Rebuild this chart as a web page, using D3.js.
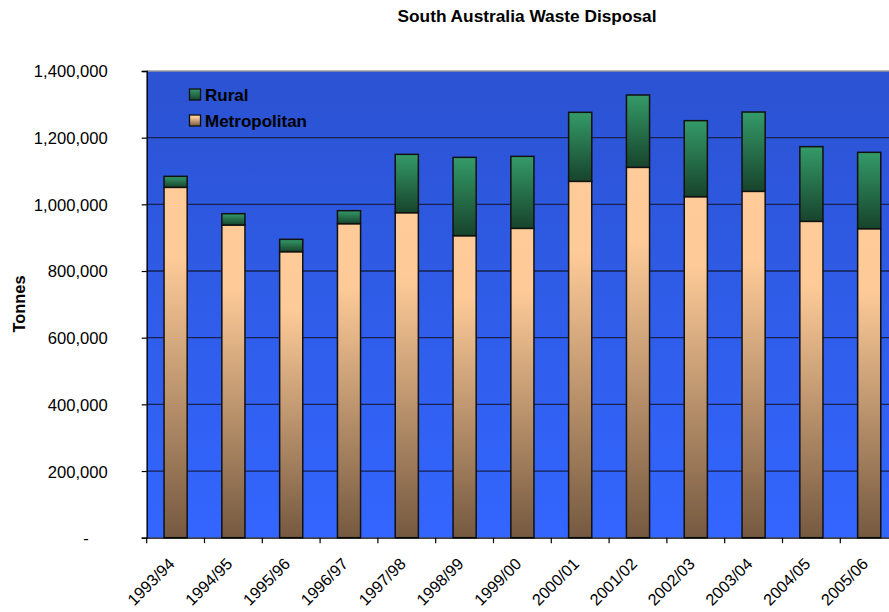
<!DOCTYPE html>
<html>
<head>
<meta charset="utf-8">
<script src="https://cdn.jsdelivr.net/npm/d3@7"></script>
<style>
  html, body { margin: 0; padding: 0; background: #ffffff; }
  svg { display: block; font-family: "Liberation Sans", Arial, sans-serif; }
</style>
</head>
<body>
<svg id="chart" width="889" height="612"></svg>
<script>
const categories = ["1993/94","1994/95","1995/96","1996/97","1997/98","1998/99","1999/00","2000/01","2001/02","2002/03","2003/04","2004/05","2005/06"];
const metropolitan = [1051000, 938000, 858000, 942000, 975000, 906000, 928000, 1069000, 1111000, 1023000, 1039000, 949000, 927000];
const rural = [33000, 34000, 37000, 39000, 175000, 235000, 216000, 207000, 217000, 228000, 238000, 224000, 229000];
const yTicks = [0, 200000, 400000, 600000, 800000, 1000000, 1200000, 1400000];
const seriesNames = ["Rural", "Metropolitan"];
const title = "South Australia Waste Disposal";
const yTitle = "Tonnes";

const svg = d3.select("#chart");
const plotLeft = 146.7, plotTop = 71, plotBottom = 537.7, step = 57.8;
const plotRight = plotLeft + step * categories.length;

const x = d3.scaleBand().domain(categories).range([plotLeft, plotRight]).paddingInner(0.6).paddingOuter(0.3);
const y = d3.scaleLinear().domain([0, 1400000]).range([plotBottom, plotTop]);

const defs = svg.append("defs");
const bg = defs.append("linearGradient").attr("id", "bgGrad").attr("x1", 0).attr("y1", 0).attr("x2", 0).attr("y2", 1);
bg.append("stop").attr("offset", "0%").attr("stop-color", "#2B52D1");
bg.append("stop").attr("offset", "100%").attr("stop-color", "#3366FF");

const mg = defs.append("linearGradient").attr("id", "metroGrad").attr("x1", 0).attr("y1", 0).attr("x2", 0).attr("y2", 1);
mg.append("stop").attr("offset", "0%").attr("stop-color", "#FFCC99");
mg.append("stop").attr("offset", "20%").attr("stop-color", "#FECB98");
mg.append("stop").attr("offset", "100%").attr("stop-color", "#755940");

const rg = defs.append("linearGradient").attr("id", "ruralGrad").attr("x1", 0).attr("y1", 0).attr("x2", 0).attr("y2", 1);
rg.append("stop").attr("offset", "0%").attr("stop-color", "#349A68");
rg.append("stop").attr("offset", "100%").attr("stop-color", "#17442C");

// plot background
svg.append("rect").attr("x", plotLeft).attr("y", plotTop)
  .attr("width", plotRight - plotLeft).attr("height", plotBottom - plotTop)
  .attr("fill", "url(#bgGrad)");

// gridlines
svg.append("g").selectAll("line").data(yTicks.filter(d => d > 0 && d < 1400000)).join("line")
  .attr("x1", plotLeft).attr("x2", plotRight)
  .attr("y1", d => y(d)).attr("y2", d => y(d))
  .attr("stroke", "#16214F").attr("stroke-width", 1.3);
// top border
svg.append("line").attr("x1", plotLeft).attr("x2", plotRight).attr("y1", plotTop).attr("y2", plotTop)
  .attr("stroke", "#9a9a9a").attr("stroke-width", 1.3);

// bars
const data = categories.map((c, i) => ({ c, m: metropolitan[i], r: rural[i] }));
const bars = svg.append("g");
bars.selectAll("rect.metro").data(data).join("rect").attr("class", "metro")
  .attr("x", d => x(d.c)).attr("width", x.bandwidth())
  .attr("y", d => y(d.m)).attr("height", d => y(0) - y(d.m))
  .attr("fill", "url(#metroGrad)").attr("stroke", "#111").attr("stroke-width", 1.5);
bars.selectAll("rect.rural").data(data).join("rect").attr("class", "rural")
  .attr("x", d => x(d.c)).attr("width", x.bandwidth())
  .attr("y", d => y(d.m + d.r)).attr("height", d => y(d.m) - y(d.m + d.r))
  .attr("fill", "url(#ruralGrad)").attr("stroke", "#111").attr("stroke-width", 1.5);

// Y axis
const yAxis = d3.axisLeft(y).tickValues(yTicks).tickSize(5).tickPadding(34)
  .tickFormat(d => d === 0 ? "-" : d3.format(",")(d));
const ya = svg.append("g").attr("transform", `translate(${plotLeft},0)`).call(yAxis);
ya.select(".domain").attr("stroke", "#000").attr("stroke-width", 1.3);
ya.selectAll(".tick line").attr("stroke", "#000").attr("stroke-width", 1.2);
ya.selectAll(".tick text").attr("font-size", 16.6).attr("fill", "#000")
  .attr("font-family", "'Liberation Sans', Arial, sans-serif")
  .attr("x", -39)
  .attr("dy", "0.36em");
ya.selectAll(".tick text").filter(d => d === 0).attr("x", -58);

// X axis
const xAxis = d3.axisBottom(x).tickSize(0).tickFormat("");
const xa = svg.append("g").attr("transform", `translate(0,${plotBottom})`).call(xAxis);
xa.select(".domain").attr("stroke", "#000").attr("stroke-width", 1.3);
svg.append("g").selectAll("line").data(d3.range(categories.length + 1)).join("line")
  .attr("x1", i => plotLeft + i * x.step()).attr("x2", i => plotLeft + i * x.step())
  .attr("y1", plotBottom).attr("y2", plotBottom + 5.5)
  .attr("stroke", "#000").attr("stroke-width", 1.2);
svg.append("g").selectAll("text").data(categories).join("text")
  .attr("transform", d => `translate(${x(d) + x.bandwidth() / 2},565) rotate(-45)`)
  .attr("text-anchor", "end").attr("font-size", 16.2).attr("fill", "#000")
  .text(d => d);

// title
svg.append("text").attr("x", 527).attr("y", 22).attr("text-anchor", "middle")
  .attr("font-size", 17.3).attr("font-weight", "bold").text(title);

// y title
svg.append("text").attr("transform", "translate(25,304) rotate(-90)")
  .attr("text-anchor", "middle").attr("font-size", 16.4).attr("font-weight", "bold").text(yTitle);

// legend
const legend = svg.append("g");
const legFills = ["url(#ruralGrad)", "url(#metroGrad)"];
const legY = [89, 115];
seriesNames.forEach((name, i) => {
  legend.append("rect").attr("x", 189.5).attr("y", legY[i]).attr("width", 11).attr("height", 11)
    .attr("fill", legFills[i]).attr("stroke", "#111").attr("stroke-width", 1.3);
  legend.append("text").attr("x", 205).attr("y", legY[i] + 11.5).attr("font-size", 17)
    .attr("font-weight", "bold").attr("fill", "#000").text(name);
});
</script>
</body>
</html>
